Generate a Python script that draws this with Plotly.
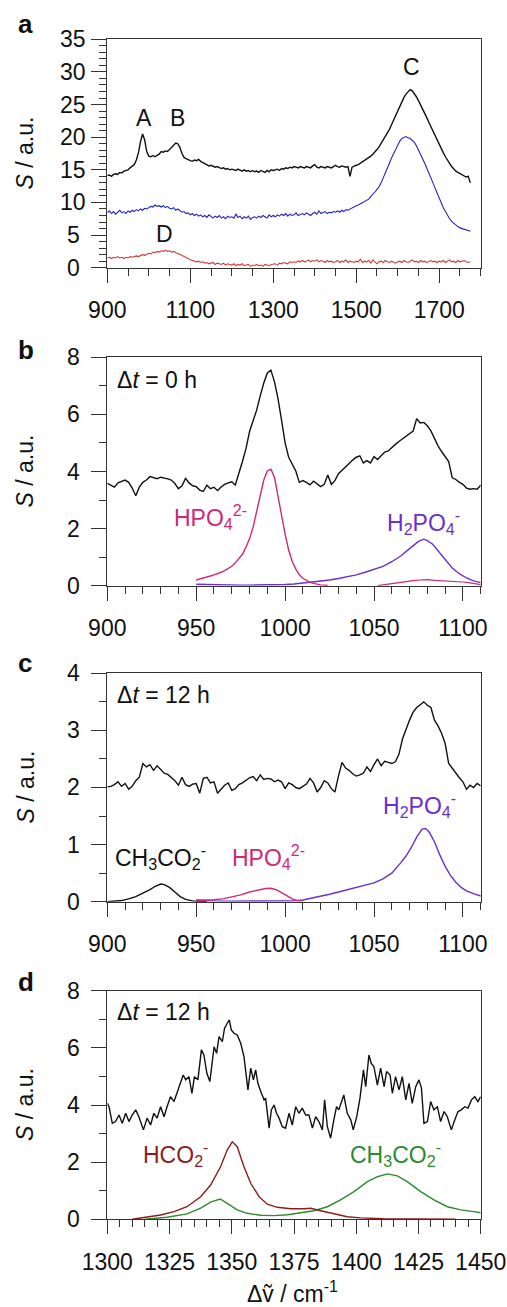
import numpy as np
import plotly.graph_objects as go

W, H = 507, 1307
FONT = "Liberation Sans, Arial, sans-serif"

# ---------------- Panel a data (step 5 cm-1 from 900) ----------------
a_x_start, a_x_step = 900, 5
a_black = [
    14.1, 14.2, 14.0, 14.3, 14.4, 14.3, 14.6, 14.5, 14.8, 14.9, 15.0, 15.3, 15.5, 15.8, 16.5, 17.6, 19.3, 20.5, 19.6, 17.8,
    17.1, 17.0, 17.2, 17.0, 17.2, 17.4, 17.8, 17.7, 17.9, 17.8, 18.1, 18.4, 18.7, 19.1, 19.0, 18.4, 17.5, 16.9, 16.7, 16.5,
    16.4, 16.3, 16.5, 16.4, 16.6, 16.3, 16.1, 15.9, 15.8, 15.6, 15.7, 15.5, 15.4, 15.5, 15.3, 15.2, 15.3, 15.1, 15.2, 15.0,
    15.1, 15.0, 14.9, 15.1, 14.9, 14.8, 15.0, 14.8, 14.9, 14.7, 14.9, 14.7, 14.8, 14.6, 14.9, 14.8, 14.6, 14.9, 14.7, 15.0,
    14.9, 15.0, 15.1, 14.9, 15.2, 15.1, 15.3, 15.2, 15.4, 15.3, 15.5, 15.4, 15.3, 15.5, 15.4, 15.3, 15.5, 15.4, 15.3, 15.6,
    15.8, 15.4, 15.3, 15.5, 15.4, 15.3, 15.5, 15.4, 15.3, 15.5, 15.7, 15.5, 15.4, 15.6, 15.5, 15.4, 15.5, 14.0, 15.4, 15.6,
    15.7, 15.8, 16.0, 16.2, 16.4, 16.6, 16.8, 17.1, 17.4, 17.7, 18.1, 18.5, 19.0, 19.5, 20.0, 20.6, 21.2, 21.9, 22.6, 23.3,
    24.0, 24.8, 25.5, 26.1, 26.6, 27.0, 27.3, 27.1, 26.7, 26.2, 25.6, 25.0, 24.4, 23.7, 23.0, 22.3, 21.6, 20.9, 20.3, 19.6,
    19.0, 18.3, 17.6, 17.0, 16.4, 16.0, 15.5, 15.1, 14.8, 14.6, 14.4, 14.3, 14.1, 13.9, 14.0, 13.0,
]
a_blue = [
    8.4, 8.7, 8.3, 8.6, 8.2, 8.5, 8.8, 8.4, 8.6, 8.3, 8.7, 8.5, 8.8, 8.6, 8.9, 8.7, 9.0, 8.8, 9.1, 9.0,
    9.2, 9.4, 9.3, 9.6, 9.4, 9.5, 9.3, 9.5, 9.2, 9.4, 9.1, 9.0, 9.2, 8.8, 9.0, 8.7, 8.5, 8.6, 8.3, 8.4,
    8.1, 8.3, 8.0, 8.2, 7.9, 8.1, 7.8, 8.0, 7.7, 8.1, 7.8, 7.6, 7.9, 7.7, 8.0, 7.6, 7.8, 7.5, 7.9, 7.7,
    7.8, 7.6, 8.2, 7.7, 7.9, 7.5, 7.8, 7.6, 7.9, 7.4, 7.7, 7.8, 7.6, 7.9, 7.7, 8.0, 7.8, 7.6, 8.1, 7.8,
    8.0, 7.8, 8.1, 7.9, 8.2, 8.0, 8.3, 7.9, 8.2, 8.0, 8.1, 8.4, 8.0, 8.2, 8.3, 8.1, 8.4, 8.2, 8.0, 8.3,
    8.5, 8.2, 8.7, 8.3, 8.4, 8.6, 8.3, 8.5, 8.4, 8.6, 8.5, 8.7, 8.5, 8.8, 8.6, 8.9, 8.8, 9.0, 9.1, 9.3,
    9.5, 9.6, 9.8, 10.0, 10.1, 10.3, 10.5, 10.9, 11.2, 11.6, 12.0, 12.4, 13.0, 13.7, 14.4, 15.2, 16.0, 16.8, 17.5, 18.1,
    18.8, 19.4, 19.8, 20.0, 20.1, 19.9, 19.8, 19.5, 19.2, 18.7, 18.1, 17.4, 16.7, 16.0, 15.3, 14.6, 13.9, 13.0, 12.2, 11.4,
    10.6, 9.9, 9.2, 8.6, 8.0, 7.5, 7.1, 6.8, 6.5, 6.3, 6.1, 6.0, 5.9, 5.8, 5.7, 5.6,
]
a_red = [
    1.5, 1.6, 1.4, 1.6, 1.5, 1.7, 1.5, 1.6, 1.4, 1.6, 1.5, 1.7, 1.6, 1.7, 1.8, 1.7, 1.9, 2.0, 1.9, 2.1,
    2.2, 2.1, 2.4, 2.3, 2.5, 2.4, 2.6, 2.5, 2.7, 2.5, 2.6, 2.4, 2.5, 2.3, 2.2, 2.0, 1.9, 1.7, 1.6, 1.4,
    1.2, 1.1, 1.0, 0.9, 1.0, 0.8, 0.9, 0.7, 0.8, 0.6, 0.7, 0.8, 0.5, 0.7, 0.6, 0.5, 0.7, 0.4, 0.6, 0.5,
    0.4, 0.6, 0.3, 0.5, 0.4, 0.6, 0.3, 0.4, 0.5, 0.2, 0.4, 0.3, 0.5, 0.3, 0.4, 0.2, 0.5, 0.4, 0.3, 0.5,
    0.5, 0.6, 0.4, 0.7, 0.6, 0.8, 0.7, 0.6, 0.9, 0.8, 0.9, 0.8, 1.0, 0.9, 1.1, 0.9, 1.0, 1.2, 0.9, 1.1,
    1.0, 1.2, 0.9, 1.1, 1.0, 0.8, 1.1, 0.9, 1.0, 0.8, 0.9, 1.1, 0.8, 1.0, 0.9, 1.2, 0.8, 1.0, 0.9, 0.8,
    1.0, 0.9, 1.3, 0.8, 1.0, 0.9, 1.1, 0.7, 1.2, 0.9, 0.6, 0.9, 1.0, 0.8, 1.1, 0.9, 0.8, 1.0, 0.9, 0.7,
    0.9, 1.0, 0.8, 1.1, 0.9, 0.8, 1.0, 1.2, 0.9, 1.0, 0.8, 1.1, 0.9, 1.0, 0.8, 0.9, 1.1, 0.9, 1.0, 0.8,
    1.0, 0.9, 1.1, 0.8, 1.0, 1.2, 0.9, 1.0, 0.8, 1.1, 0.9, 1.0, 1.1, 0.9, 0.8, 0.9,
]

# ---------------- Panel b data ----------------
b_x_start, b_x_step = 900, 2
b_black = [
    3.58, 3.50, 3.45, 3.60, 3.66, 3.70, 3.62, 3.42, 3.15, 3.45, 3.62, 3.70, 3.82, 3.78, 3.75, 3.80, 3.78, 3.74, 3.70, 3.58,
    3.40, 3.50, 3.76, 3.60, 3.50, 3.47, 3.35, 3.30, 3.52, 3.40, 3.45, 3.33, 3.46, 3.55, 3.60, 3.64, 3.53, 3.90, 4.35, 4.80,
    5.40, 5.78, 6.15, 6.65, 7.10, 7.45, 7.55, 7.15, 6.55, 5.80, 5.00, 4.50, 4.25, 4.02, 3.62, 3.68, 3.62, 3.53, 3.66, 3.58,
    3.47, 3.55, 3.88, 3.55, 3.68, 3.92, 4.05, 4.18, 4.28, 4.40, 4.50, 4.55, 4.30, 4.38, 4.30, 4.52, 4.42, 4.55, 4.68, 4.72,
    4.85, 4.95, 5.05, 5.15, 5.22, 5.35, 5.42, 5.85, 5.70, 5.72, 5.60, 5.42, 5.15, 4.90, 4.70, 4.50, 4.35, 3.78, 3.72, 3.62,
    3.55, 3.42, 3.38, 3.40, 3.38, 3.52,
]
b_hpo_x = [950, 952, 954, 956, 958, 960, 962, 964, 966, 968, 970, 972, 974, 976, 978, 980, 982, 984, 986, 988,
           990, 992, 994, 996, 998, 1000, 1002, 1004, 1006, 1008, 1010, 1012, 1014, 1016, 1018, 1020, 1022, 1024]
b_hpo_y = [0.20, 0.23, 0.26, 0.30, 0.34, 0.38, 0.42, 0.47, 0.53, 0.60, 0.68, 0.80, 0.95, 1.10, 1.35, 1.65, 2.05, 2.60, 3.20, 3.70,
           4.02, 4.08, 3.80, 3.10, 2.45, 1.80, 1.25, 0.85, 0.58, 0.38, 0.26, 0.18, 0.12, 0.08, 0.05, 0.03, 0.02, 0.01]
b_hpo2_x = [1052, 1056, 1060, 1064, 1068, 1072, 1076, 1080, 1084, 1088, 1092, 1096, 1100, 1104, 1108, 1110]
b_hpo2_y = [0.00, 0.04, 0.08, 0.12, 0.15, 0.18, 0.20, 0.21, 0.19, 0.18, 0.17, 0.15, 0.13, 0.10, 0.06, 0.04]
b_h2po_x = [950, 955, 960, 965, 970, 975, 980, 985, 990, 995, 1000, 1005, 1010, 1015, 1020, 1025, 1030, 1035, 1040, 1045,
            1050, 1055, 1060, 1065, 1070, 1075, 1078, 1080, 1083, 1086, 1090, 1094, 1098, 1102, 1106, 1110]
b_h2po_y = [0.05, 0.04, 0.03, 0.03, 0.02, 0.02, 0.02, 0.02, 0.02, 0.03, 0.04, 0.06, 0.09, 0.12, 0.16, 0.20, 0.25, 0.31, 0.38, 0.47,
            0.57, 0.68, 0.84, 1.04, 1.30, 1.55, 1.63, 1.58, 1.45, 1.22, 0.92, 0.62, 0.42, 0.27, 0.17, 0.11]

# ---------------- Panel c data ----------------
c_x_start, c_x_step = 900, 2
c_black = [
    2.01, 2.02, 2.05, 2.10, 2.02, 2.07, 1.97, 2.02, 2.12, 2.18, 2.42, 2.36, 2.40, 2.30, 2.38, 2.31, 2.25, 2.23, 2.18, 2.12,
    2.04, 2.18, 2.05, 2.02, 2.06, 2.07, 1.90, 2.16, 2.18, 2.08, 2.10, 1.90, 1.97, 2.04, 2.08, 1.95, 1.98, 2.05, 2.08, 2.12,
    2.17, 2.19, 2.12, 2.22, 2.14, 2.16, 2.15, 2.10, 2.13, 2.10, 1.98, 2.08, 2.05, 2.00, 1.98, 2.02, 2.06, 2.16, 2.08, 1.92,
    2.00, 2.12, 2.08, 1.98, 1.92, 2.20, 2.44, 2.34, 2.30, 2.24, 2.20, 2.22, 2.25, 2.36, 2.28, 2.40, 2.50, 2.38, 2.46, 2.44,
    2.42, 2.45, 2.58, 2.85, 3.02, 3.18, 3.32, 3.40, 3.45, 3.50, 3.44, 3.40, 3.18, 3.08, 2.95, 2.77, 2.42, 2.33, 2.25, 2.17,
    2.10, 1.97, 2.04, 2.00, 2.07, 2.03,
]
c_ch3_x = [900, 904, 908, 912, 916, 920, 924, 927, 930, 932, 935, 938, 941, 944, 948, 952, 956]
c_ch3_y = [0.0, 0.01, 0.02, 0.05, 0.09, 0.15, 0.21, 0.27, 0.31, 0.30, 0.25, 0.17, 0.09, 0.04, 0.015, 0.005, 0.0]
c_hpo_x = [950, 955, 960, 965, 970, 975, 980, 985, 989, 992, 995, 998, 1001, 1004, 1007, 1010]
c_hpo_y = [0.02, 0.025, 0.035, 0.05, 0.08, 0.12, 0.17, 0.21, 0.23, 0.235, 0.21, 0.16, 0.10, 0.05, 0.02, 0.01]
c_h2po_x = [950, 955, 960, 970, 980, 990, 1000, 1005, 1010, 1015, 1020, 1025, 1030, 1035, 1040, 1045, 1050, 1055, 1060, 1065,
            1068, 1071, 1074, 1077, 1079, 1081, 1084, 1087, 1090, 1093, 1096, 1099, 1102, 1106, 1110]
c_h2po_y = [0.03, 0.02, 0.015, 0.01, 0.01, 0.01, 0.01, 0.015, 0.03, 0.06, 0.10, 0.13, 0.17, 0.21, 0.24, 0.28, 0.33, 0.40, 0.50, 0.68,
            0.80, 0.95, 1.13, 1.27, 1.28, 1.22, 1.05, 0.82, 0.62, 0.46, 0.34, 0.25, 0.19, 0.14, 0.10]

# ---------------- Panel d data ----------------
d_black_x = [1300, 1300.7, 1302, 1303.3, 1304.7, 1306, 1307.4, 1308.7, 1310, 1311.4, 1312.7, 1314.5, 1316, 1317.4, 1318.7,
             1320, 1321.4, 1322.8, 1324, 1325.4, 1326.8, 1328, 1329.5, 1330.5, 1331.5, 1332.8, 1334, 1335, 1336.4, 1337.8,
             1338.8, 1340, 1341.2, 1342.9, 1343.9, 1344.9, 1346.2, 1347.1, 1348.2, 1349, 1349.8, 1350.9, 1352.2, 1353.6,
             1354.9, 1356.5, 1357.6, 1358.7, 1359.6, 1360.5, 1361.9, 1363, 1363.6, 1365, 1365.9, 1367, 1368, 1369, 1370.3,
             1371.6, 1373, 1374.3, 1375.7, 1377, 1378.3, 1379.7, 1381, 1382.4, 1383.7, 1385, 1386.4, 1387.3, 1388.4, 1389.7,
             1391, 1392.1, 1393, 1394, 1395, 1396.4, 1397.8, 1398.8, 1400.2, 1401.5, 1402.9, 1403.8, 1405.1, 1406, 1407.1,
             1408.5, 1409.8, 1411.2, 1412.2, 1413.6, 1414.5, 1415.8, 1417.2, 1418.5, 1419.9, 1421.2, 1422.5, 1423.9, 1425.2,
             1426.2, 1427.2, 1428.6, 1429.9, 1431.2, 1432.6, 1433.9, 1435.3, 1436.6, 1438.2, 1439.6, 1440.9, 1442.2, 1443.6,
             1444.9, 1446.3, 1447.6, 1448.9, 1450]
d_black_y = [4.06, 3.94, 3.36, 3.42, 3.65, 3.36, 3.71, 3.42, 3.65, 3.83, 3.59, 3.13, 3.54, 3.30, 3.71,
             3.54, 3.94, 3.59, 3.94, 4.29, 4.12, 4.41, 4.76, 5.05, 4.88, 4.99, 4.41, 4.99, 4.88, 5.93,
             5.75, 5.11, 4.82, 6.04, 5.81, 6.39, 6.22, 6.69, 6.86, 6.98, 6.63, 6.51, 6.45, 6.16,
             5.69, 4.53, 5.29, 4.88, 5.23, 4.76, 4.41, 4.18, 4.24, 3.19, 3.83, 4.00, 3.71, 3.54, 3.24,
             3.19, 3.71, 3.30, 3.94, 3.71, 3.89, 3.65, 3.65, 3.19, 3.59, 3.42, 3.13, 4.18, 3.24, 2.84,
             3.48, 3.94, 3.83, 4.06, 4.35, 3.71, 3.48, 3.13, 3.59, 4.24, 5.23, 4.64, 5.75, 5.46, 5.34,
             4.70, 5.29, 4.64, 5.17, 5.05, 4.41, 4.99, 4.53, 4.99, 4.18, 4.76, 4.06, 4.64, 4.88,
             4.59, 3.36, 3.42, 4.12, 3.83, 3.94, 3.42, 3.77, 3.59, 3.13, 3.48, 3.77, 3.83, 3.94,
             3.89, 4.18, 4.29, 4.12, 4.29]
d_hco_x = [1310, 1314.7, 1321.4, 1326.8, 1332, 1337.5, 1341.5, 1345.5, 1348.2, 1350.2, 1352.2, 1354.9, 1357.6, 1361,
           1364.3, 1368.3, 1373.7, 1379, 1381.7, 1385.7, 1391, 1396.4, 1401.8, 1411, 1425, 1440]
d_hco_y = [0.0, 0.06, 0.15, 0.27, 0.44, 0.79, 1.20, 1.84, 2.43, 2.71, 2.54, 1.84, 1.26, 0.79,
           0.53, 0.42, 0.37, 0.37, 0.385, 0.30, 0.19, 0.09, 0.05, 0.02, 0.01, 0.0]
d_ch3_x = [1315, 1324, 1332, 1337.5, 1341.5, 1345.3, 1348.2, 1352.2, 1356.2, 1361.6, 1367, 1372.4, 1377.7, 1383,
           1388.4, 1393.7, 1399.1, 1404.5, 1408.5, 1412.5, 1416.5, 1420.5, 1425.9, 1431.2, 1436.6, 1442, 1447.3, 1450]
d_ch3_y = [0.0, 0.07, 0.19, 0.39, 0.60, 0.71, 0.56, 0.33, 0.21, 0.14, 0.13, 0.16, 0.23, 0.30,
           0.44, 0.68, 0.97, 1.32, 1.49, 1.59, 1.52, 1.32, 0.97, 0.68, 0.44, 0.33, 0.27, 0.23]

# axis settings per panel
x_ranges = [[900, 1800], [900, 1110], [900, 1110], [1300, 1450]]
x_major = [200, 50, 50, 25]
x_minor = [50, 10, 10, 5]
y_ranges = [[0, 35], [0, 8], [0, 4], [0, 8]]
y_major = [5, 2, 1, 2]
y_minor = [1, 1, 0.5, 1]
y_tick_labels = [["0", "5", "10", "15", "20", "25", "30", "35"],
                 ["0", "2", "4", "6", "8"],
                 ["0", "1", "2", "3", "4"],
                 ["0", "2", "4", "6", "8"]]

# pixel geometry of the four plot areas (top, bottom)
panels_px = [(39.3, 267.7), (357.3, 585.7), (673.3, 901.7), (990.7, 1219.3)]
X_LEFT, X_RIGHT = 107.3, 480.7

BLACK = "#111111"
BLUE = "#2222c0"
RED = "#d03a3a"
MAGENTA = "#cc2a78"
PURPLE = "#6a2fd0"
DKRED = "#8a1e1e"
GREEN = "#2e8a2e"
AXC = "#333333"
TXT = "#111111"
FS = 23

fig = go.Figure()

def xs(start, step, n):
    return [start + i * step for i in range(n)]

def add(x, y, color, k, w=1.3):
    fig.add_trace(go.Scatter(x=x, y=y, mode="lines", line=dict(color=color, width=w),
                             xaxis="x" if k == 1 else f"x{k}", yaxis="y" if k == 1 else f"y{k}",
                             showlegend=False, hoverinfo="skip"))

add(xs(a_x_start, a_x_step, len(a_red)), a_red, RED, 1, 1.1)
add(xs(a_x_start, a_x_step, len(a_blue)), a_blue, BLUE, 1, 1.1)
add(xs(a_x_start, a_x_step, len(a_black)), a_black, BLACK, 1, 1.4)

add(b_hpo2_x, b_hpo2_y, MAGENTA, 2, 1.2)
add(b_h2po_x, b_h2po_y, PURPLE, 2, 1.4)
add(b_hpo_x, b_hpo_y, MAGENTA, 2, 1.4)
add(xs(b_x_start, b_x_step, len(b_black)), b_black, BLACK, 2, 1.4)

add(c_ch3_x, c_ch3_y, BLACK, 3, 1.4)
add(c_h2po_x, c_h2po_y, PURPLE, 3, 1.4)
add(c_hpo_x, c_hpo_y, MAGENTA, 3, 1.4)
add(xs(c_x_start, c_x_step, len(c_black)), c_black, BLACK, 3, 1.4)

add(d_ch3_x, d_ch3_y, GREEN, 4, 1.4)
add(d_hco_x, d_hco_y, DKRED, 4, 1.4)
add(d_black_x, d_black_y, BLACK, 4, 1.4)

def pfx(x):
    return x / W

def pfy(y):
    return 1 - y / H

layout = dict(width=W, height=H, autosize=False, margin=dict(l=0, r=0, t=0, b=0, pad=0, autoexpand=False),
              paper_bgcolor="white", plot_bgcolor="white",
              font=dict(family=FONT, size=FS, color=TXT))

annotations = []
for k in range(4):
    top, bot = panels_px[k]
    sx = "" if k == 0 else str(k + 1)
    x0 = x_ranges[k][0]
    layout["xaxis" + sx] = dict(
        domain=[pfx(X_LEFT), pfx(X_RIGHT)], anchor="y" + sx, range=x_ranges[k], automargin=False,
        tickmode="linear", tick0=x0, dtick=x_major[k], ticks="outside", ticklen=14,
        tickwidth=1.2, tickcolor=AXC, showline=True, linecolor=AXC, linewidth=1.2, mirror=True,
        showgrid=False, zeroline=False, tickfont=dict(size=FS, family=FONT, color=TXT),
        ticklabelstandoff=8,
        minor=dict(dtick=x_minor[k], tick0=x0, ticks="outside", ticklen=7, tickwidth=1.2, tickcolor=AXC, showgrid=False),
    )
    layout["yaxis" + sx] = dict(
        domain=[pfy(bot), pfy(top)], anchor="x" + sx, range=y_ranges[k], automargin=False,
        tickmode="linear", tick0=0, dtick=y_major[k], ticks="outside", ticklen=15,
        tickwidth=1.2, tickcolor=AXC, showline=True, linecolor=AXC, linewidth=1.2, mirror=True,
        showgrid=False, zeroline=False, showticklabels=False,
        minor=dict(dtick=y_minor[k], tick0=0, ticks="outside", ticklen=7, tickwidth=1.2, tickcolor=AXC, showgrid=False),
    )
    # y tick labels (centered, as in the original)
    for lab in y_tick_labels[k]:
        annotations.append(dict(xref="paper", yref="y" + sx, x=pfx(73), y=float(lab), text=lab,
                                showarrow=False, xanchor="center", yanchor="middle",
                                font=dict(size=FS, family=FONT, color=TXT)))
    # y-axis title
    annotations.append(dict(xref="paper", yref="paper", x=pfx(25), y=pfy((top + bot) / 2),
                            text="<i>S</i> / a.u.", textangle=-90, showarrow=False,
                            xanchor="center", yanchor="middle", font=dict(size=FS, family=FONT, color=TXT)))

# panel letters
for lab, (lx, ly) in zip(["a", "b", "c", "d"], [(25, 24), (26, 350), (25, 663), (26, 982)]):
    annotations.append(dict(xref="paper", yref="paper", x=pfx(lx), y=pfy(ly), text="<b>" + lab + "</b>",
                            showarrow=False, xanchor="center", yanchor="middle",
                            font=dict(size=26, family=FONT, color=TXT)))

def txt(text, x, y, color=TXT, xanchor="left", size=FS):
    annotations.append(dict(xref="paper", yref="paper", x=pfx(x), y=pfy(y), text=text, showarrow=False,
                            xanchor=xanchor, yanchor="middle", font=dict(size=size, family=FONT, color=color)))

# panel a peak labels
txt("A", 144, 118, xanchor="center")
txt("B", 177, 118, xanchor="center")
txt("C", 411, 67, xanchor="center")
txt("D", 164, 234, xanchor="center")

# panel b
txt("Δ<i>t</i> = 0 h", 115, 380)
txt("HPO<sub>4</sub><sup>2-</sup>", 172, 517, MAGENTA)
txt("H<sub>2</sub>PO<sub>4</sub><sup>-</sup>", 385, 522, PURPLE)
# panel c
txt("Δ<i>t</i> = 12 h", 115, 695)
txt("CH<sub>3</sub>CO<sub>2</sub><sup>-</sup>", 113, 857)
txt("HPO<sub>4</sub><sup>2-</sup>", 230, 857, MAGENTA)
txt("H<sub>2</sub>PO<sub>4</sub><sup>-</sup>", 381, 805, PURPLE)
# panel d
txt("Δ<i>t</i> = 12 h", 115, 1012)
txt("HCO<sub>2</sub><sup>-</sup>", 141, 1154, DKRED)
txt("CH<sub>3</sub>CO<sub>2</sub><sup>-</sup>", 348, 1154, GREEN)

# x-axis title
txt("Δṽ / cm<sup>-1</sup>", 292, 1292, xanchor="center")

layout["annotations"] = annotations
fig.update_layout(**layout)
fig.write_html(
    "out.html",
    config={"responsive": False, "displayModeBar": False},
    post_script="document.body.style.margin='0';document.body.style.padding='0';document.body.style.overflow='hidden';",
)
